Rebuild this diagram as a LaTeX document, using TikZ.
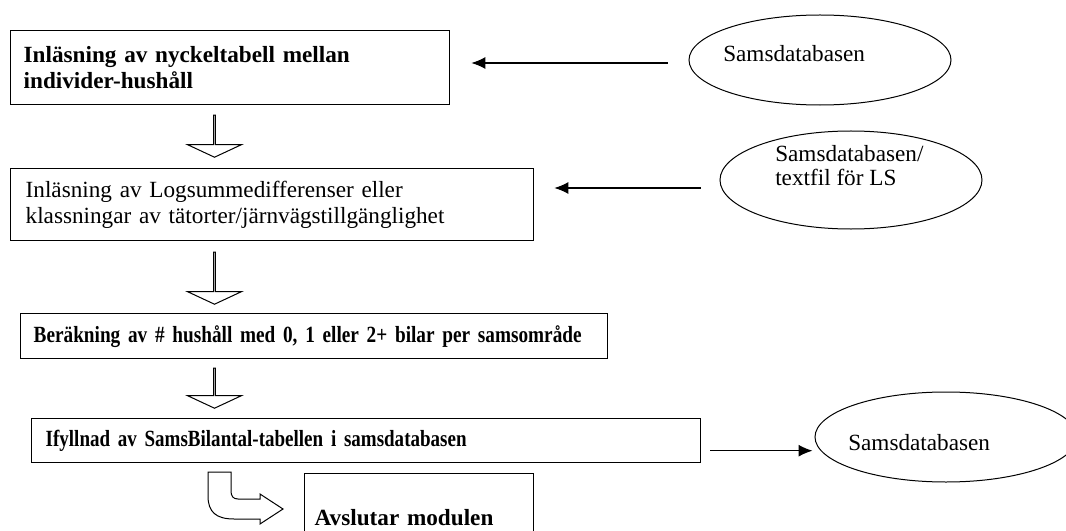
\documentclass[tikz,border=0pt]{standalone}
\usepackage{fontspec}
\setmainfont{Liberation Serif}
\newfontfamily\narrowfont{Liberation Serif}[FakeStretch=0.83]
\newfontfamily\narrowerfont{Liberation Serif}[FakeStretch=0.82]
\usetikzlibrary{arrows.meta, positioning, shapes.geometric, shapes.arrows}
\tikzset{%
	stepbox/.style={
		draw,
		line width=0.35mm,
		rectangle,
		anchor=north west,
		align=left,
		inner ysep=0pt,
		font=\fontsize{16.5}{18}\selectfont
	},
	dbase/.style={
		draw,
		ellipse,
		line width=0.25mm,
		inner sep=0pt,
		minimum width=65.5mm,
		minimum height=22.5mm
	},
	dbtext/.style={
		inner sep=0pt,
		align=left,
		font=\fontsize{16.5}{17}\selectfont
	},
	blockarr/.style={
		draw,
		single arrow,
		rotate=-90,
		line width=0.25mm,
		inner sep=0pt,
		minimum width=13.5mm,
		single arrow head extend=3.375mm,
		single arrow tip angle=130
	},
	feed/.style={
		-{Latex[length=3.5mm, width=3mm]},
		line width=0.3mm
	},
}
\begin{document}
\begin{tikzpicture}[x=0.25mm, y=-0.25mm]
	\clip (0,0) rectangle (1066,531);
	
	\node[stepbox, font=\bfseries\fontsize{16.5}{18.5}\selectfont, text width=103.25mm, minimum height=18.5mm, inner xsep=3.25mm] (box1) at (10,30) {Inläsning av nyckeltabell mellan\\individer-hushåll};
	\node[stepbox, text width=123.25mm, minimum height=18mm, inner xsep=3.75mm] (box2) at (10,168) {Inläsning av Logsummedifferenser eller\\klassningar av tätorter/järnvägstillgänglighet};
	\node[stepbox, font=\narrowfont\bfseries\fontsize{16.5}{18}\selectfont, text width=140.25mm, minimum height=11.25mm, inner xsep=3.25mm] (box3) at (20,313) {Beräkning av \# hushåll med 0, 1 eller 2+ bilar per samsområde};
	\node[stepbox, font=\narrowerfont\bfseries\fontsize{16.5}{18}\selectfont, text width=160.25mm, minimum height=11mm, inner xsep=3.5mm] (box4) at (31,418) {Ifyllnad av SamsBilantal-tabellen i samsdatabasen};
	\node[stepbox, font=\bfseries\fontsize{16.5}{18}\selectfont, text width=52.25mm, minimum height=22mm, inner xsep=2.5mm] (box5) at (304,473) {Avslutar modulen};
	
	\node[dbase] (db1) at (820,60) {};
	\node[dbtext, anchor=base west] (db1txt) at (723,62) {Samsdatabasen};
	\node[dbase, minimum height=24.5mm] (db2) at (851,180) {};
	\node[dbtext, anchor=west] (db2txt) at (775,166) {Samsdatabasen/\\textfil för LS};
	\node[dbase] (db3) at (946,437) {};
	\node[dbtext, anchor=base west] (db3txt) at (848,450) {Samsdatabasen};
	
	\draw[feed, shorten <=5.25mm, shorten >=5.25mm] ([yshift=-0.75mm]db1.west) -- ([yshift=-0.75mm]db1.west -| box1.east);
	\draw[feed, shorten <=4.75mm, shorten >=5mm] ([yshift=-2mm]db2.west) -- ([yshift=-2mm]db2.west -| box2.east);
	\draw[feed, shorten <=2.25mm, shorten >=0.5mm] ([yshift=-2.5mm]box4.east) -- ([yshift=-2.5mm]box4.east -| db3.west);
	
	\node[blockarr, minimum height=10.5mm] (down1) at (214.5,136) {};
	\node[blockarr, minimum height=13mm] (down2) at (214.5,278) {};
	\node[blockarr, minimum height=10mm] (down3) at (214.5,388) {};
	
	\draw[line width=0.25mm] (208,472) -- (208,496) .. controls (208,512) and (216,519) .. (234,519) -- (260,519) -- (260,524) -- (283,509) -- (260,494) -- (260,499) -- (238,499) .. controls (233,499) and (231,496) .. (231,491) -- (231,472) -- cycle;
	
\end{tikzpicture}
\end{document}
